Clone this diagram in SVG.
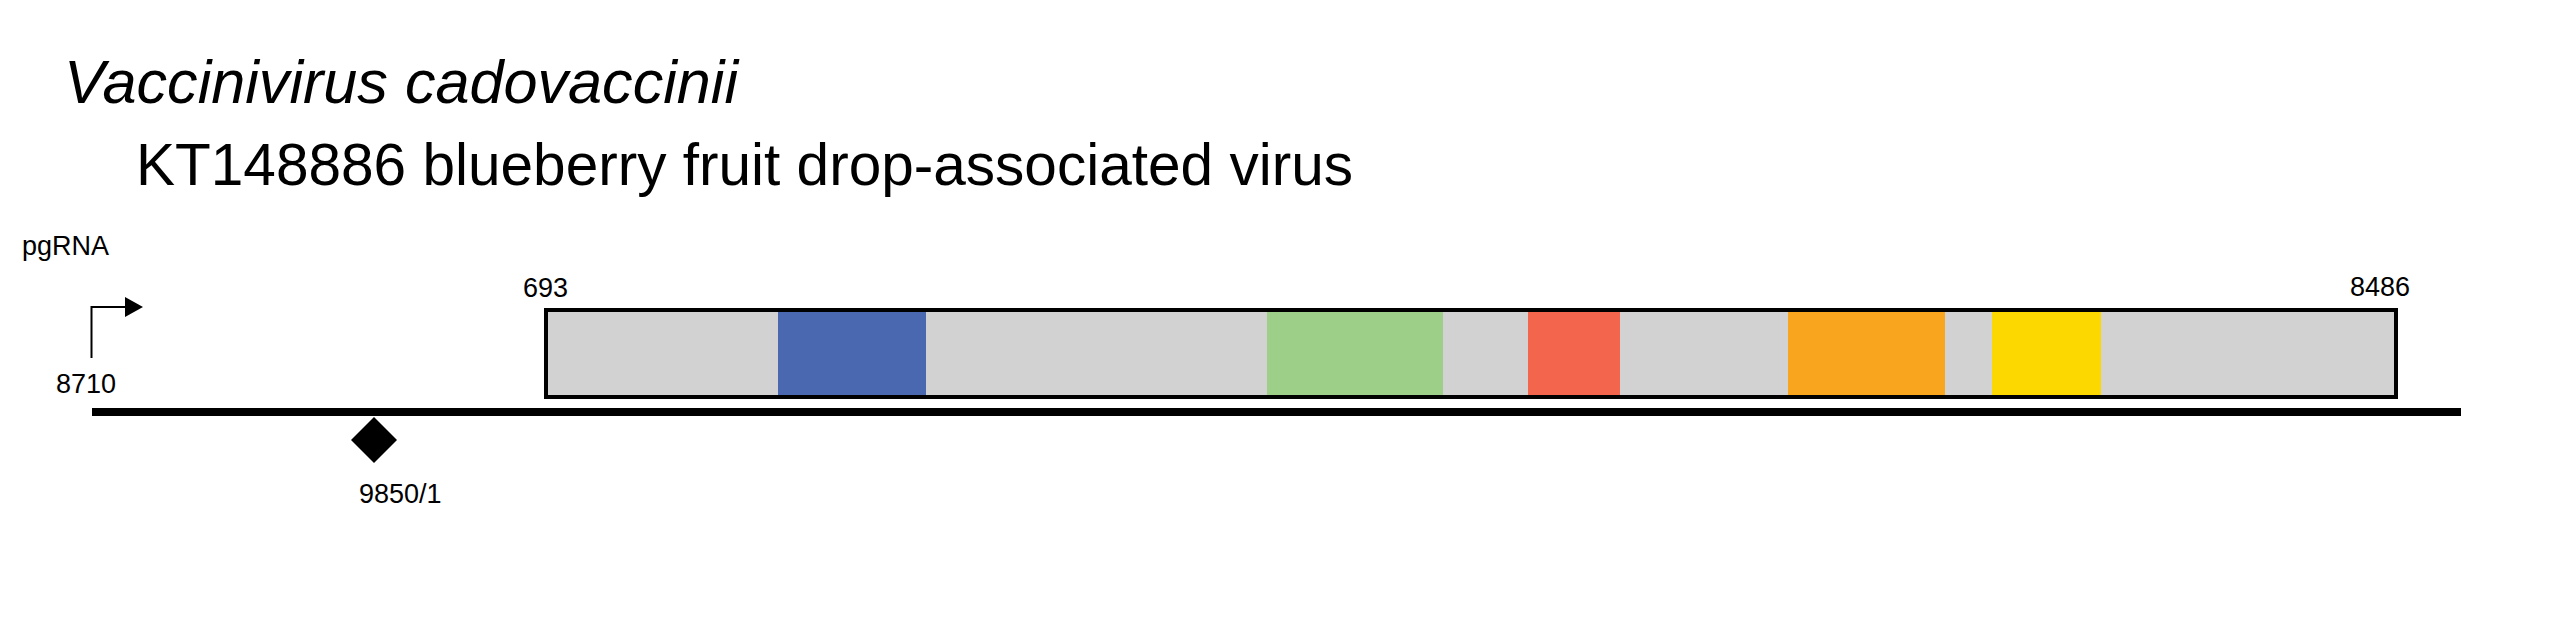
<svg xmlns="http://www.w3.org/2000/svg" width="2575" height="621" viewBox="0 0 2575 621">
<style>
.lbl{font-family:"Liberation Sans",Arial,sans-serif;font-size:27px;fill:#000}
.ttl{font-family:"Liberation Sans",Arial,sans-serif;fill:#000}
.dom{stroke:none}
</style>
<defs>
<marker id="arrowHead" viewBox="0 0 18 20" refX="0" refY="10" markerWidth="18" markerHeight="20" markerUnits="userSpaceOnUse" orient="auto">
<polygon points="0,0 18,10 0,20" fill="#000"/>
</marker>
</defs>
<rect width="2575" height="621" fill="#fff"/>
<g id="title">
<text class="ttl" x="64" y="103" font-size="62" font-style="italic" textLength="674" lengthAdjust="spacingAndGlyphs">Vaccinivirus cadovaccinii</text>
</g>
<g id="subtitle">
<text class="ttl" x="136" y="185" font-size="59" textLength="1217" lengthAdjust="spacingAndGlyphs">KT148886 blueberry fruit drop-associated virus</text>
</g>
<g id="pgRNA-label">
<text class="lbl" x="22" y="255">pgRNA</text>
</g>
<g id="connectors">
<path id="promoter-arrow" d="M91.5 358 V307 H125" fill="none" stroke="#000" stroke-width="2" marker-end="url(#arrowHead)"/>
</g>
<g id="start-8710">
<text class="lbl" x="56" y="393">8710</text>
</g>
<g id="genome-line">
<rect x="92" y="408" width="2369" height="8" fill="#000"/>
</g>
<g id="orf">
<rect x="546" y="310" width="1850" height="87" fill="#d2d2d2"/>
<rect class="dom" x="778" y="312" width="148" height="83" fill="#4a68b0"/>
<rect class="dom" x="1267" y="312" width="176" height="83" fill="#9dcf88"/>
<rect class="dom" x="1528" y="312" width="92" height="83" fill="#f3654c"/>
<rect class="dom" x="1788" y="312" width="157" height="83" fill="#f9a51e"/>
<rect class="dom" x="1992" y="312" width="109" height="83" fill="#fcd800"/>
<rect x="546" y="310" width="1850" height="87" fill="none" stroke="#000" stroke-width="4"/>
<text class="lbl" x="523" y="297">693</text>
<text class="lbl" x="2350" y="296">8486</text>
</g>
<g id="marker-9850">
<polygon points="374,417 397,440 374,463 351,440" fill="#000"/>
<text class="lbl" x="359" y="503">9850/1</text>
</g>
</svg>
